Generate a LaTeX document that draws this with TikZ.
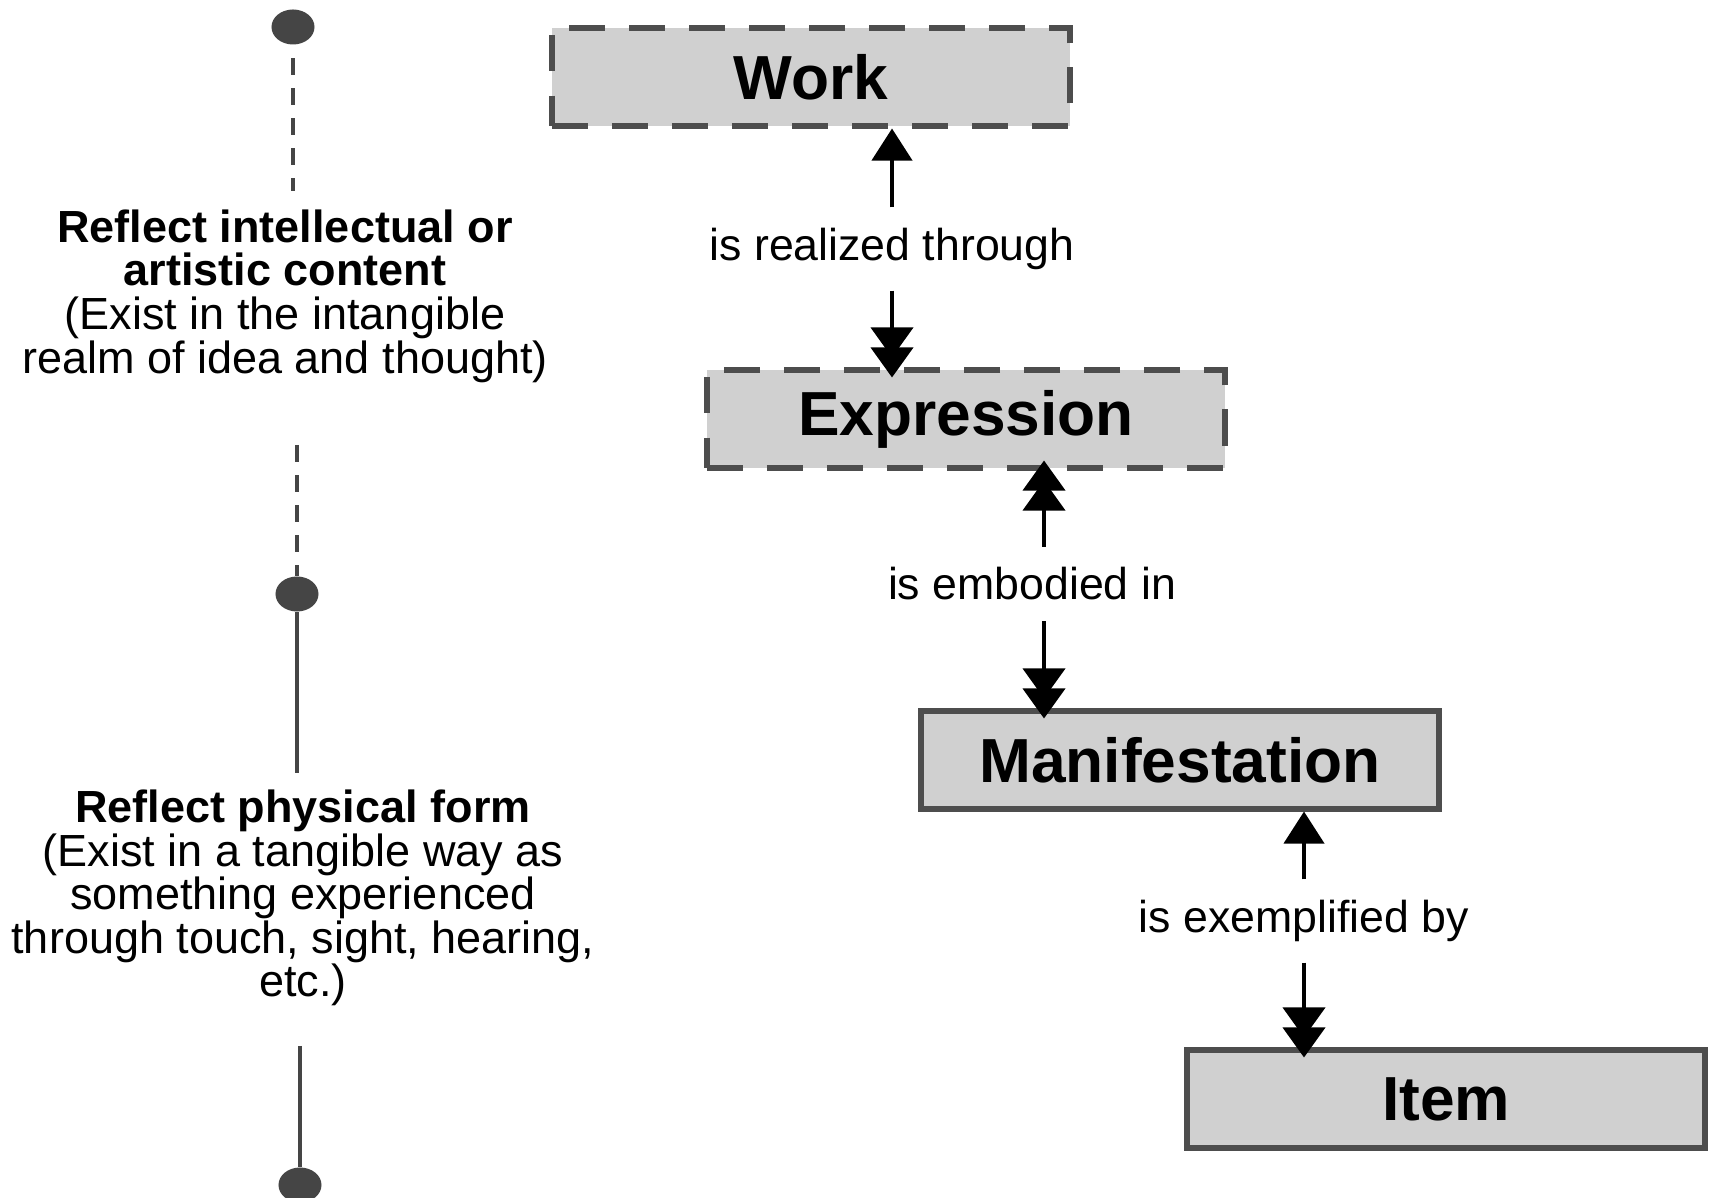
\documentclass[tikz,border=0pt]{standalone}
\usepackage{fontspec}
\setmainfont{Liberation Sans}
\usetikzlibrary{arrows.meta}
\usetikzlibrary{shapes.geometric}
\usetikzlibrary{positioning}
\definecolor{boxfill}{HTML}{D0D0D0}
\definecolor{boxline}{HTML}{4D4D4D}
\definecolor{axisgray}{HTML}{454545}

\begin{document}
\begin{tikzpicture}[x=0.01cm,y=-0.01cm,
	entity/.style={draw=boxline,fill=boxfill,line width=0.06cm,minimum width=5.18cm,minimum height=0.97cm,inner sep=0pt,font=\fontsize{17.7}{20}\selectfont\bfseries},
	abstract/.style={entity,dash pattern=on 0.36cm off 0.24cm},
	rel/.style={inner xsep=0pt,inner ysep=0.2cm,font=\fontsize{12.7}{15}\selectfont},
	note/.style={align=center,inner sep=0pt,font=\fontsize{12.8}{12.4}\selectfont},
	dot/.style={ellipse,fill=axisgray,minimum width=0.43cm,minimum height=0.35cm,inner sep=0pt},
	idealine/.style={draw=axisgray,line width=0.04cm,dash pattern=on 0.17cm off 0.13cm},
	formline/.style={draw=axisgray,line width=0.04cm},
	up/.style={-{Triangle[width=0.4cm,length=0.32cm]},line width=0.04cm},
	upup/.style={-{Triangle[width=0.42cm,length=0.3cm,sep=-0.1cm]Triangle[width=0.42cm,length=0.3cm,sep=-0.1cm]},line width=0.04cm}]
			\useasboundingbox (0,0) rectangle (1712,1198);
			\node[dot] (top) at (293,27) {};
			\coordinate (gapA) at (293,191);
			\node[note] (mind) at (285,296) {\textbf{Reflect intellectual or}\\\textbf{artistic content}\\(Exist in the intangible\\realm of idea and thought)};
			\coordinate (gapB) at (297,445);
			\node[dot] (mid) at (297,594) {};
			\coordinate (gapC) at (297,773);
			\node[note] (body) at (303,898) {\textbf{Reflect physical form}\\(Exist in a tangible way as\\something experienced\\through touch, sight, hearing,\\etc.)};
			\coordinate (gapD) at (300,1046);
			\node[dot] (bottom) at (300,1185) {};
			\draw[idealine,dash phase=0.17cm] (top) -- (gapA);
			\draw[idealine] (gapB) -- (mid);
			\draw[formline] (mid) -- (gapC);
			\draw[formline] (gapD) -- (bottom);
			\node[abstract] (work) at (811,77) {Work};
			\node[abstract] (expression) at (966,419) {Expression};
			\node[entity] (manifestation) at (1180,760) {Manifestation};
			\node[entity] (item) at (1446,1099) {Item};
			\node[rel] (realized) at (892,249) {is realized through};
			\node[rel] (embodied) at (1032,584) {is embodied in};
			\node[rel] (exemplified) at (1304,921) {is exemplified by};
			\draw[up] (realized.north) -- (realized.north |- work.south);
			\draw[upup] (realized.south) -- (realized.south |- expression.north);
			\draw[upup] ([xshift=0.12cm]embodied.north) -- ([xshift=0.12cm]embodied.north |- expression.south);
			\draw[upup] ([xshift=0.12cm]embodied.south) -- ([xshift=0.12cm]embodied.south |- manifestation.north);
			\draw[up] (exemplified.north) -- (exemplified.north |- manifestation.south);
			\draw[upup] (exemplified.south) -- (exemplified.south |- item.north);
\end{tikzpicture}
\end{document}
